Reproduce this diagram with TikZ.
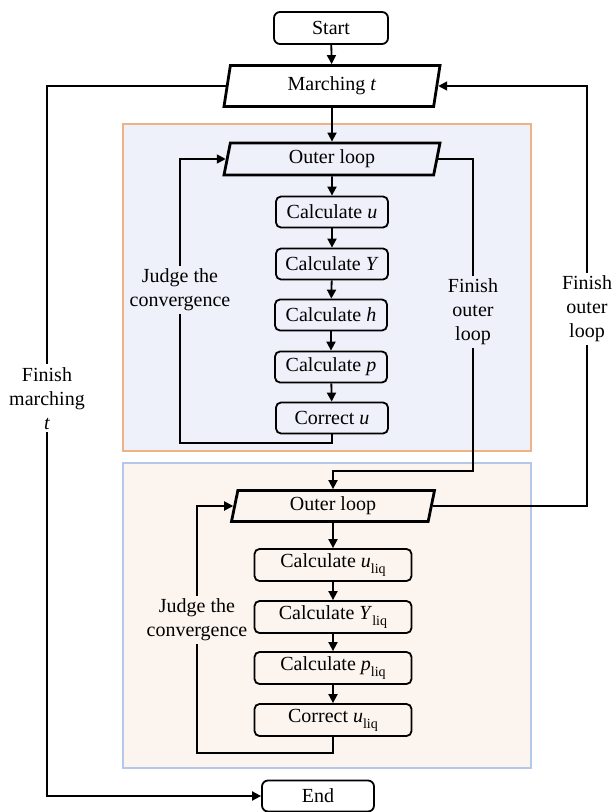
\documentclass[tikz,border=0pt]{standalone}
\usepackage{fontspec}
\setmainfont{Liberation Serif}
\usepackage{xcolor}
\usepackage{tikz}
\usetikzlibrary{shapes.geometric, arrows.meta, positioning}

\definecolor{upperfill}{RGB}{238,241,249}
\definecolor{upperedge}{RGB}{238,178,132}
\definecolor{lowerfill}{RGB}{252,244,238}
\definecolor{loweredge}{RGB}{182,200,232}

\newcommand{\liqsub}{\raisebox{-3pt}{\scriptsize liq}}

\begin{document}
\begin{tikzpicture}[
    x=0.5pt, y=-0.5pt,
    % Styles
    startstop/.style={
        rectangle, rounded corners=3pt,
        minimum width=57pt, minimum height=16pt,
        draw=black, line width=0.9pt, fill=white,
        align=center, inner sep=1pt
    },
    process/.style={
        rectangle, rounded corners=2.5pt,
        minimum width=56pt, minimum height=15.5pt,
        draw=black, line width=0.9pt,
        align=center, inner sep=2pt
    },
    loopio/.style={
        trapezium, trapezium left angle=74, trapezium right angle=106,
        trapezium stretches body,
        minimum width=108pt, minimum height=16pt,
        draw=black, line width=1.4pt,
        align=center, inner sep=1pt
    },
    region/.style={line width=0.9pt},
    arrow/.style={-{Triangle[length=4.5pt, width=4.5pt]}, line width=0.9pt},
    lbl/.style={align=center, inner sep=1.5pt}
]
\useasboundingbox (0,0) rectangle (612,812);

% === BACKGROUND REGIONS ===
\draw [region, draw=upperedge, fill=upperfill] (123,124) rectangle (531,451);
\draw [region, draw=loweredge, fill=lowerfill] (123,463) rectangle (531,768);

% === TOP (start and time marching) ===
\node (start) [startstop] at (331,28) {Start};
\node (march) [loopio, minimum height=20.5pt] at (332,86) {Marching \textit{t}};

% === UPPER BLOCK ===
\node (outer1) [loopio] at (332,159) {Outer loop};
\node (calcu) [process] at (332,212) {Calculate \textit{u}};
\node (calcy) [process] at (332,264) {Calculate \textit{Y}};
\node (calch) [process] at (331,315) {Calculate \textit{h}};
\node (calcp) [process] at (331,367) {Calculate \textit{p}};
\node (corru) [process] at (332,418) {Correct \textit{u}};

% === LOWER BLOCK (liquid) ===
\node (outer2) [loopio, minimum width=101.5pt, minimum height=15.5pt] at (333,506) {Outer loop};
\node (calcul) [process, minimum width=78.5pt, minimum height=16pt] at (333,565) {Calculate \textit{u}\liqsub};
\node (calcyl) [process, minimum width=78.5pt, minimum height=16pt] at (333,617) {Calculate \textit{Y}\liqsub};
\node (calcpl) [process, minimum width=78.5pt, minimum height=16pt] at (333,668) {Calculate \textit{p}\liqsub};
\node (corrul) [process, minimum width=78.5pt, minimum height=16pt] at (333,720) {Correct \textit{u}\liqsub};

% === BOTTOM ===
\node (end) [startstop, minimum width=56pt, minimum height=15.5pt] at (318,796) {End};

% bend points
\coordinate (j1) at (180,443);
\coordinate (j2) at (197,753);
\coordinate (f1) at (473,471);
\coordinate (f2) at (587,506);
\coordinate (fm) at (47,86);

% === ARROWS ===
% Main vertical flow
\draw [arrow] (start) -- (march);
\draw [arrow] (march) -- (outer1);
\draw [arrow] (outer1) -- (calcu);
\draw [arrow] (calcu) -- (calcy);
\draw [arrow] (calcy) -- (calch);
\draw [arrow] (calch) -- (calcp);
\draw [arrow] (calcp) -- (corru);

\draw [arrow] (outer2) -- (calcul);
\draw [arrow] (calcul) -- (calcyl);
\draw [arrow] (calcyl) -- (calcpl);
\draw [arrow] (calcpl) -- (corrul);

% Convergence loops (enter outer loop from left)
\draw [arrow] (corru.south) |- (j1) |- node[lbl, fill=upperfill, pos=0.27] {Judge the\\convergence} (outer1.left side);
\draw [arrow] (corrul.south) |- (j2) |- node[lbl, fill=lowerfill, pos=0.27] {Judge the\\convergence} (outer2.left side);

% Upper block done -> lower block
\draw [arrow] (outer1.right side) -| node[lbl, fill=upperfill, pos=0.745] {Finish\\outer\\loop} (f1) -| (outer2.north);

% Lower block done -> back to marching
\draw [arrow] (outer2.right side) -- (f2) |- node[lbl, fill=white, pos=0.235] {Finish\\outer\\loop} (march.right side);

% Marching finished -> End
\draw [arrow] (march.left side) -- (fm) |- node[lbl, fill=white, pos=0.22] {Finish\\marching\\\textit{t}} (end.west);

\end{tikzpicture}
\end{document}
